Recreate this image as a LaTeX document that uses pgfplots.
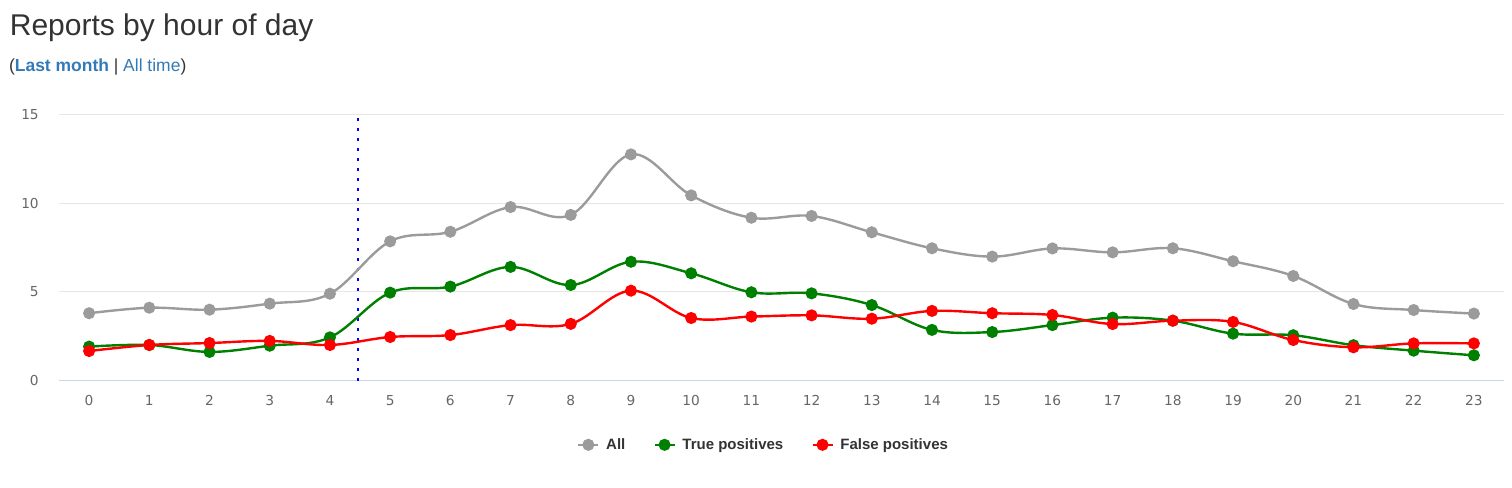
\documentclass[border=0pt]{standalone}
\usepackage{fontspec}
\usepackage{pgfplots}
\pgfplotsset{compat=1.18}
\setmainfont{Liberation Sans}
\newfontfamily\tickfont{DejaVu Sans}
\newfontfamily\legfont{Liberation Sans}
\definecolor{titlecol}{HTML}{333333}
\definecolor{linkcol}{HTML}{337AB7}
\definecolor{tickcol}{HTML}{666666}
\definecolor{gridcol}{HTML}{E6E6E6}
\definecolor{axiscol}{HTML}{CCD6EB}
\definecolor{allcol}{HTML}{9B9B9B}
\definecolor{tpcol}{HTML}{008000}
\definecolor{fpcol}{HTML}{FF0000}
\begin{document}
\begin{tikzpicture}[x=1pt,y=1pt]
\useasboundingbox (0,0) rectangle (1134,366);
\node[anchor=base west, inner sep=0pt, text=titlecol, font=\fontsize{22.5}{27}\selectfont] at (7.2,339) {Reports by hour of day};
\node[anchor=base west, inner sep=0pt, text=titlecol, font=\fontsize{13.1}{16}\selectfont] at (6.6,312.2) {(\textcolor{linkcol}{\textbf{Last month}} | \textcolor{linkcol}{All time})};
\begin{axis}[
  at={(44.25pt,80.5pt)}, anchor=south west,
  scale only axis, width=1083.75pt, height=199.65pt,
  xmin=-0.5, xmax=23.5, ymin=0, ymax=15,
  xtick={0,...,23}, ytick={0,5,10,15},
  axis line style={draw=none},
  major tick length=0pt,
  tick style={draw=none},
  ymajorgrids, grid style={gridcol, line width=0.75pt},
  /pgf/number format/assume math mode=true,
  yticklabel style={font=\tickfont\fontsize{10.3}{12}\selectfont, text=tickcol, anchor=east, inner sep=0pt, xshift=-15pt},
  xticklabel style={font=\tickfont\fontsize{10.3}{12}\selectfont, text=tickcol, anchor=north, inner sep=0pt, yshift=-10.7pt},
  clip=false,
  legend columns=3,
  legend style={draw=none, fill=none, at={(axis description cs:0.4869,-0.241)}, anchor=center,
    font=\legfont\bfseries\fontsize{11.25}{13}\selectfont, text=titlecol,
    nodes={inner sep=0pt},
    /tikz/every odd column/.append style={column sep=5pt},
    /tikz/every even column/.append style={column sep=21pt}},
  legend image code/.code={\draw[mark repeat=2,mark phase=2] plot coordinates {(0pt,0pt) (7.5pt,0pt) (15pt,0pt)};},
  every axis plot/.append style={line width=1.8pt, mark=*, mark size=3.6pt, smooth, tension=0.6, mark options={solid}},
]
\draw[axiscol, line width=0.75pt] (rel axis cs:0,0) -- (rel axis cs:1,0);
\addplot[blue, line width=1.6pt, mark=none, sharp plot, dash pattern=on 1.7pt off 5.8pt, forget plot] coordinates {(4.46,0) (4.46,15)};
\addplot[allcol, mark options={fill=allcol}] coordinates {
(0,3.80) (1,4.11) (2,4.00) (3,4.34) (4,4.90) (5,7.85) (6,8.39) (7,9.78) (8,9.34) (9,12.75) (10,10.44) (11,9.18)
(12,9.28) (13,8.36) (14,7.46) (15,6.99) (16,7.45) (17,7.23) (18,7.46) (19,6.73) (20,5.90) (21,4.32) (22,3.98) (23,3.78)};
\addlegendentry{All}
\addplot[tpcol, mark options={fill=tpcol}] coordinates {
(0,1.92) (1,2.01) (2,1.62) (3,1.97) (4,2.44) (5,4.96) (6,5.30) (7,6.41) (8,5.39) (9,6.70) (10,6.05) (11,4.98)
(12,4.92) (13,4.26) (14,2.86) (15,2.74) (16,3.13) (17,3.55) (18,3.38) (19,2.65) (20,2.56) (21,2.00) (22,1.69) (23,1.43)};
\addlegendentry{True positives}
\addplot[fpcol, mark options={fill=fpcol}] coordinates {
(0,1.67) (1,2.01) (2,2.12) (3,2.24) (4,2.01) (5,2.46) (6,2.57) (7,3.13) (8,3.20) (9,5.07) (10,3.53) (11,3.61)
(12,3.68) (13,3.49) (14,3.93) (15,3.80) (16,3.70) (17,3.19) (18,3.38) (19,3.31) (20,2.29) (21,1.88) (22,2.10) (23,2.10)};
\addlegendentry{False positives}
\end{axis}
\end{tikzpicture}
\end{document}
